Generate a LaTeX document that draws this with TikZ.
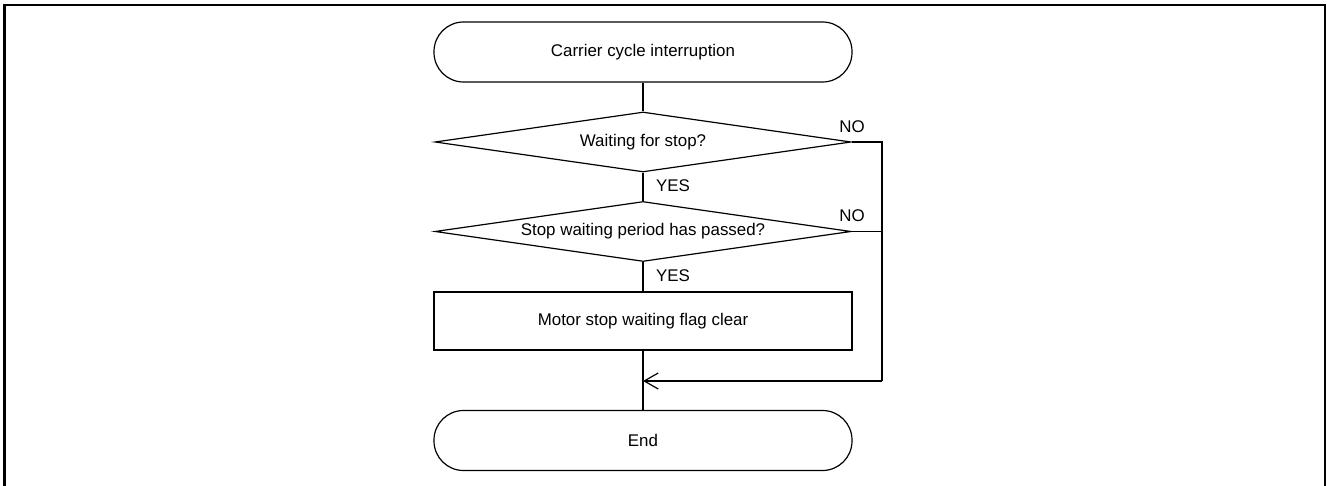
\documentclass[tikz,border=0pt]{standalone}
\usepackage{fontspec}
\setmainfont{Liberation Sans}
\usetikzlibrary{shapes.geometric,arrows.meta}
\begin{document}
\begin{tikzpicture}[x=1pt,y=-1pt,line width=1.2pt,
  font=\fontsize{16.9}{20}\selectfont,
  term/.style={draw, rectangle, rounded corners=29.5pt, minimum width=418pt, minimum height=60pt, inner sep=0pt},
  dec/.style={draw, diamond, aspect=7, minimum width=416pt, minimum height=60pt, inner sep=0pt},
  proc/.style={draw, rectangle, minimum width=418pt, minimum height=58pt, inner sep=0pt},
  lbl/.style={inner sep=0pt},
  conn/.style={draw, line width=1.2pt},
  frame/.style={line width=2.5pt}]
\useasboundingbox (0,0) rectangle (1327,486);
\draw[frame] (4.5,486) -- (4.5,5) -- (1325,5) -- (1325,486);

\node[term] (start) at (643,52) {Carrier cycle interruption};
\node[dec] (d1) at (643,142) {\makebox[0pt]{Waiting for stop?}};
\node[dec] (d2) at (643,231.5) {\makebox[0pt]{Stop waiting period has passed?}};
\node[proc] (p) at (643,321) {Motor stop waiting flag clear};
\node[term] (end) at (643,440.5) {End};

\node[lbl] (no1) at (852,127) {NO};
\node[lbl] (no2) at (852,216) {NO};
\node[lbl] (yes1) at (673,186) {YES};
\node[lbl] (yes2) at (673,276) {YES};

\coordinate (r1) at (882,142);
\coordinate (r2) at (882,231.5);
\coordinate (r3) at (882,381);
\coordinate (j) at (643,381);

\draw[conn] (start) -- (d1);
\draw[conn] (d1) -- (d2);
\draw[conn] (d2) -- (p);
\draw[conn] (p) -- (end);
\draw[conn] (d1.east) -- (r1) -- (r3);
\draw[conn] (d2.east) -- (r2);
\draw[conn, -{Straight Barb[length=14pt,width=16pt]}] (r3) -- (j);
\end{tikzpicture}
\end{document}
